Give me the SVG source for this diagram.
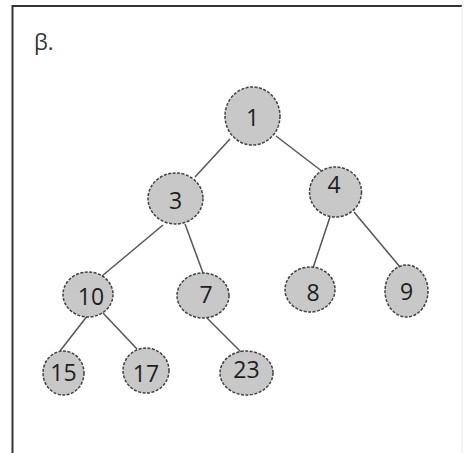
<svg xmlns="http://www.w3.org/2000/svg" width="468" height="453" viewBox="0 0 468 453">
  <style>
    .node ellipse { fill: #c8c8c8; stroke: #404040; stroke-width: 1.5; stroke-dasharray: 3 1.5; }
    .node text { font-family: "Open Sans", "Liberation Sans", sans-serif; font-size: 23px; fill: #1e1e1e; text-anchor: middle; dominant-baseline: central; }
    .edges line { stroke: #555; stroke-width: 1.5; }
  </style>
  <rect width="468" height="453" fill="#ffffff"/>
  <!-- frame: top and left edges dark, right edge faint -->
  <g id="frame">
    <line x1="12.5" y1="6" x2="462" y2="6" stroke="#333" stroke-width="2"/>
    <line x1="12.5" y1="5" x2="12.5" y2="453" stroke="#333" stroke-width="2"/>
    <line x1="462" y1="6" x2="462" y2="453" stroke="#e4e4e4" stroke-width="1"/>
  </g>
  <text x="34" y="50" font-family="'Open Sans', 'Liberation Sans', sans-serif" font-size="22" fill="#333">β.</text>
  <g class="edges" id="connectors">
    <line x1="230" y1="139" x2="195" y2="177"/>
    <line x1="276" y1="136" x2="323" y2="172"/>
    <line x1="163" y1="225" x2="102" y2="276"/>
    <line x1="185" y1="224" x2="203" y2="273"/>
    <line x1="330" y1="217" x2="313" y2="268"/>
    <line x1="354" y1="212" x2="400" y2="267"/>
    <line x1="88" y1="315" x2="60" y2="351"/>
    <line x1="103" y1="313" x2="137" y2="349"/>
    <line x1="207" y1="318" x2="241" y2="352"/>
  </g>
  <g class="node" id="n1"><ellipse cx="252.5" cy="116" rx="27.5" ry="29"/><text x="252.5" y="117">1</text></g>
  <g class="node" id="n3"><ellipse cx="175.5" cy="198.5" rx="27.5" ry="25.5"/><text x="175.5" y="200">3</text></g>
  <g class="node" id="n4"><ellipse cx="335.5" cy="192" rx="26" ry="25"/><text x="334" y="184">4</text></g>
  <g class="node" id="n10"><ellipse cx="88" cy="294.5" rx="25" ry="22.5"/><text x="91" y="296">10</text></g>
  <g class="node" id="n7"><ellipse cx="203" cy="295.5" rx="26" ry="22.5"/><text x="206" y="294">7</text></g>
  <g class="node" id="n8"><ellipse cx="310" cy="289.5" rx="25" ry="22.5"/><text x="313" y="292">8</text></g>
  <g class="node" id="n9"><ellipse cx="406.5" cy="291" rx="21.5" ry="26"/><text x="406.5" y="291">9</text></g>
  <g class="node" id="n15"><ellipse cx="63.5" cy="373" rx="20.5" ry="22"/><text x="63.5" y="372">15</text></g>
  <g class="node" id="n17"><ellipse cx="146" cy="370.5" rx="23" ry="22.5"/><text x="146" y="373">17</text></g>
  <g class="node" id="n23"><ellipse cx="246.5" cy="373" rx="26.5" ry="22"/><text x="246.5" y="369">23</text></g>
</svg>
